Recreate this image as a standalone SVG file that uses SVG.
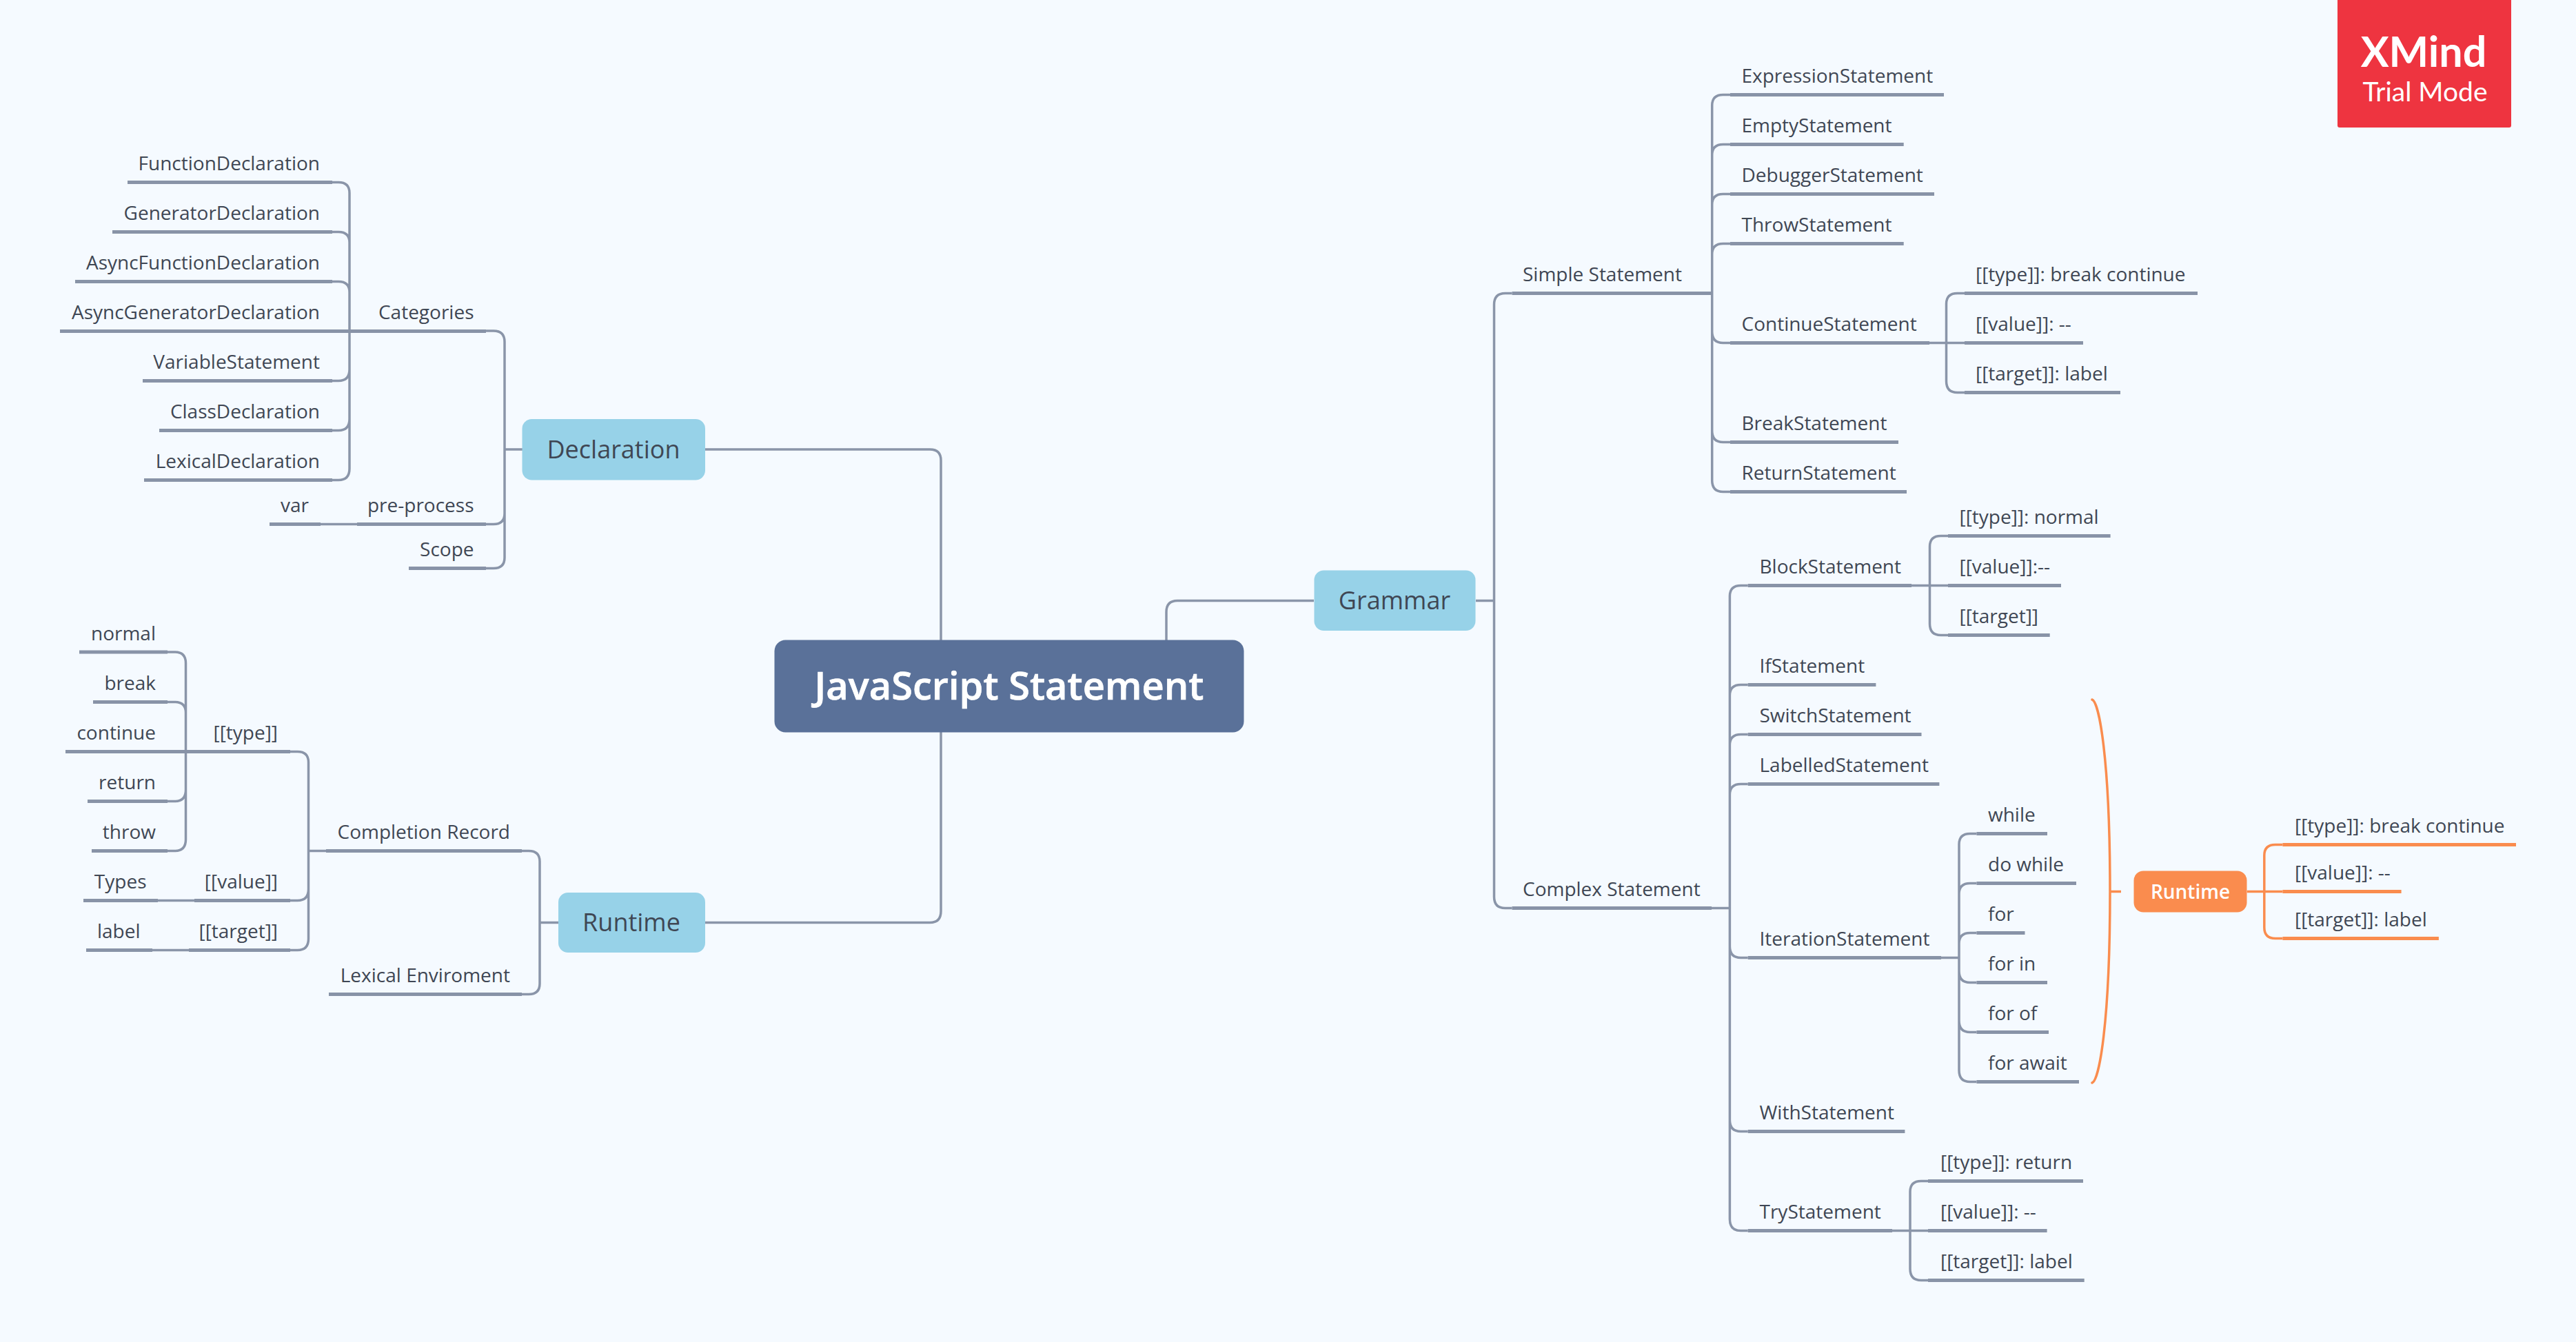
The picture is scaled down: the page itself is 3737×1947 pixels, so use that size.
<svg xmlns="http://www.w3.org/2000/svg" width="3737" height="1947" viewBox="0 0 3737 1947">
<style>
text{font-family:"Open Sans","Noto Sans",sans-serif;fill:#3f4754}
.t{font-size:28px}
.e{font-size:28px;text-anchor:end}
.n{font-size:36px;text-anchor:middle}
.c{fill:none;stroke:#8a95a9;stroke-width:3.5}
.u{fill:none;stroke:#8893a7;stroke-width:5}
.oc{fill:none;stroke:#fa8c4e;stroke-width:3.5}
.ou{fill:none;stroke:#fa8c4e;stroke-width:5}
.b{fill:#97d2e8}
</style>
<rect width="3737" height="1947" fill="#f5faff"/>
<g id="connectors">
<path class="c" d="M1023 652H1349Q1365 652 1365 668V929M1023 1338.5H1349Q1365 1338.5 1365 1322V1062M1906 871.5H1708Q1692 871.5 1692 888V929"/>
<path class="c" d="M732 652V496Q732 480 716 480H705M732 652V745Q732 760.5 716 760.5H705M732 652V809Q732 824.5 716 824.5H705M732 652H758"/>
<path class="c" d="M507 480V280Q507 264.5 491 264.5H482M507 480V352Q507 336.5 491 336.5H482M507 480V424Q507 408.5 491 408.5H482M507 480H482M507 480V536Q507 552.5 491 552.5H482M507 480V608Q507 624.5 491 624.5H482M507 480V680Q507 696.5 491 696.5H482"/>
<path class="c" d="M465 760.5H518"/>
<path class="c" d="M783 1338.5V1250Q783 1234.5 767 1234.5H757M783 1338.5V1427Q783 1442.5 767 1442.5H757M783 1338.5H810"/>
<path class="c" d="M447.5 1234.5H473M447.5 1234.5V1106Q447.5 1090.5 431.5 1090.5H421M447.5 1234.5V1290Q447.5 1306.5 431.5 1306.5H421M447.5 1234.5V1362Q447.5 1378.5 431.5 1378.5H421"/>
<path class="c" d="M229 1306.5H282M221 1378.5H274"/>
<path class="c" d="M269.5 1090.5V962Q269.5 946 253.5 946H243M269.5 1090.5V1034Q269.5 1018.5 253.5 1018.5H243M269.5 1090.5H243M269.5 1090.5V1146Q269.5 1162.5 253.5 1162.5H243M269.5 1090.5V1218Q269.5 1234.5 253.5 1234.5H243"/>
<path class="c" d="M2141 871.5H2167.5V442Q2167.5 425.5 2183.5 425.5H2193.5M2167.5 871.5V1301Q2167.5 1317.5 2183.5 1317.5H2193.5"/>
<path class="c" d="M2483.7 425.5V153Q2483.7 137.5 2499.7 137.5H2510M2483.7 425.5V225Q2483.7 209.5 2499.7 209.5H2510M2483.7 425.5V297Q2483.7 281.5 2499.7 281.5H2510M2483.7 425.5V369Q2483.7 353.5 2499.7 353.5H2510M2483.7 425.5V481Q2483.7 497.5 2499.7 497.5H2510M2483.7 425.5V625Q2483.7 641.5 2499.7 641.5H2510M2483.7 425.5V697Q2483.7 713.5 2499.7 713.5H2510"/>
<path class="c" d="M2799 497.5H2850M2823.5 497.5V441Q2823.5 425.5 2839.5 425.5H2850M2823.5 497.5V553Q2823.5 569.5 2839.5 569.5H2850"/>
<path class="c" d="M2483 1317.5H2509.4V865Q2509.4 849.5 2525.4 849.5H2535.7M2509.4 1317.5V1009Q2509.4 993.5 2525.4 993.5H2535.7M2509.4 1317.5V1081Q2509.4 1065.5 2525.4 1065.5H2535.7M2509.4 1317.5V1153Q2509.4 1137.5 2525.4 1137.5H2535.7M2509.4 1317.5V1373Q2509.4 1389.5 2525.4 1389.5H2535.7M2509.4 1317.5V1625Q2509.4 1641.5 2525.4 1641.5H2535.7M2509.4 1317.5V1769Q2509.4 1785.5 2525.4 1785.5H2535.7"/>
<path class="c" d="M2773 849.5H2826M2799.5 849.5V793Q2799.5 777.5 2815.5 777.5H2826M2799.5 849.5V905Q2799.5 921.5 2815.5 921.5H2826"/>
<path class="c" d="M2816 1389.5H2842V1225Q2842 1209.5 2858 1209.5H2867.4M2842 1389.5V1297Q2842 1281.5 2858 1281.5H2867.4M2842 1389.5V1369Q2842 1353.5 2858 1353.5H2867.4M2842 1389.5V1409Q2842 1425.5 2858 1425.5H2867.4M2842 1389.5V1481Q2842 1497.5 2858 1497.5H2867.4M2842 1389.5V1553Q2842 1569.5 2858 1569.5H2867.4"/>
<path class="c" d="M2745 1785.5H2797M2771 1785.5V1729Q2771 1713.5 2787 1713.5H2797M2771 1785.5V1841Q2771 1857.5 2787 1857.5H2797"/>
<path class="u" d="M185 264.5H482M163 336.5H482M109 408.5H482M87 480.5H705M207 552.5H482M231 624.5H482M209 696.5H482M518 760.5H705M391 760.5H465M593 824.5H705"/>
<path class="u" d="M115 946H243M135 1018.5H243M95 1090.5H421M127 1162.5H243M133 1234.5H243M282 1306.5H421M121 1306.5H229M274 1378.5H421M125 1378.5H221M473 1234.5H757M477 1442.5H757"/>
<path class="u" d="M2193.5 425.5H2483.7M2510 137.5H2820M2510 209.5H2761.7M2510 281.5H2806M2510 353.5H2761.7M2510 497.5H2799M2510 641.5H2754M2510 713.5H2766M2850 425.5H3188M2850 497.5H3022M2850 569.5H3076"/>
<path class="u" d="M2193.5 1317.5H2483M2535.7 849.5H2773M2535.7 993.5H2721.4M2535.7 1065.5H2787.5M2535.7 1137.5H2813.4M2535.7 1389.5H2816M2535.7 1641.5H2763.4M2535.7 1785.5H2745M2826 777.5H3061.6M2826 849.5H2990M2826 921.5H2973.7M2867.4 1209.5H2970M2867.4 1281.5H3012M2867.4 1353.5H2937.5M2867.4 1425.5H2970M2867.4 1497.5H2972M2867.4 1569.5H3016M2797 1713.5H3022M2797 1785.5H2969.6M2797 1857.5H3023.7"/>
<path class="oc" d="M3035 1015C3045 1018 3061 1100 3061 1293C3061 1486 3045 1568 3035 1571" stroke-linecap="round"/>
<path class="oc" d="M3061 1293.4H3077M3259.7 1293.4H3311.4M3284.8 1293.4V1241Q3284.8 1225.4 3300.8 1225.4H3311.4M3284.8 1293.4V1345.4Q3284.8 1361.4 3300.8 1361.4H3311.4"/>
<path class="ou" d="M3311.4 1225.4H3650M3311.4 1293.4H3483.6M3311.4 1361.4H3537.9"/>
</g>
<g id="root"><rect x="1123.5" y="928.5" width="681" height="134" rx="16" fill="#5a7199"/><text x="1464" y="1015" font-size="56" font-weight="600" text-anchor="middle" style="fill:#fff;stroke:#fff;stroke-width:.7">JavaScript Statement</text></g>
<g id="declaration"><rect class="b" x="757.5" y="608" width="265.5" height="88.5" rx="14"/><text class="n" x="890" y="665">Declaration</text></g>
<g id="runtime"><rect class="b" x="810" y="1295" width="213" height="87" rx="14"/><text class="n" x="916" y="1351">Runtime</text></g>
<g id="grammar"><rect class="b" x="1906.5" y="827.5" width="234" height="87.5" rx="14"/><text class="n" x="2023" y="884">Grammar</text></g>
<g id="categories"><text class="e" x="687.5" y="463">Categories</text></g>
<g id="functiondeclaration"><text class="e" x="464" y="247">FunctionDeclaration</text></g>
<g id="generatordeclaration"><text class="e" x="464" y="319">GeneratorDeclaration</text></g>
<g id="asyncfunctiondeclaration"><text class="e" x="464" y="391">AsyncFunctionDeclaration</text></g>
<g id="asyncgeneratordeclaration"><text class="e" x="464" y="463">AsyncGeneratorDeclaration</text></g>
<g id="variablestatement"><text class="e" x="464" y="535">VariableStatement</text></g>
<g id="classdeclaration"><text class="e" x="464" y="607">ClassDeclaration</text></g>
<g id="lexicaldeclaration"><text class="e" x="464" y="679">LexicalDeclaration</text></g>
<g id="preprocess"><text class="e" x="687.5" y="743">pre-process</text></g>
<g id="var"><text class="e" x="448" y="743">var</text></g>
<g id="scope"><text class="e" x="687.5" y="807">Scope</text></g>
<g id="normal"><text class="e" x="226" y="929">normal</text></g>
<g id="break"><text class="e" x="226" y="1001">break</text></g>
<g id="continue"><text class="e" x="226" y="1073">continue</text></g>
<g id="return"><text class="e" x="226" y="1145">return</text></g>
<g id="throw"><text class="e" x="226" y="1217">throw</text></g>
<g id="type"><text class="e" x="403" y="1073">[[type]]</text></g>
<g id="value"><text class="e" x="403" y="1289">[[value]]</text></g>
<g id="target"><text class="e" x="403" y="1361">[[target]]</text></g>
<g id="types"><text class="e" x="212.5" y="1289">Types</text></g>
<g id="label"><text class="e" x="203.5" y="1361">label</text></g>
<g id="completion"><text class="e" x="740" y="1217">Completion Record</text></g>
<g id="lexical"><text class="e" x="740" y="1425">Lexical Enviroment</text></g>
<g id="simple"><text class="t" x="2209" y="408">Simple Statement</text></g>
<g id="expression"><text class="t" x="2526.5" y="120">ExpressionStatement</text></g>
<g id="empty"><text class="t" x="2526.5" y="192">EmptyStatement</text></g>
<g id="debugger"><text class="t" x="2526.5" y="264">DebuggerStatement</text></g>
<g id="throwst"><text class="t" x="2526.5" y="336">ThrowStatement</text></g>
<g id="continuest"><text class="t" x="2526.5" y="480">ContinueStatement</text></g>
<g id="breakst"><text class="t" x="2526.5" y="624">BreakStatement</text></g>
<g id="returnst"><text class="t" x="2526.5" y="696">ReturnStatement</text></g>
<g id="ctype"><text class="t" x="2866" y="408">[[type]]: break continue</text></g>
<g id="cvalue"><text class="t" x="2866" y="480">[[value]]: --</text></g>
<g id="ctarget"><text class="t" x="2866" y="552">[[target]]: label</text></g>
<g id="complex"><text class="t" x="2209" y="1300">Complex Statement</text></g>
<g id="block"><text class="t" x="2552.5" y="832">BlockStatement</text></g>
<g id="ifst"><text class="t" x="2552.5" y="976">IfStatement</text></g>
<g id="switchst"><text class="t" x="2552.5" y="1048">SwitchStatement</text></g>
<g id="labelled"><text class="t" x="2552.5" y="1120">LabelledStatement</text></g>
<g id="iteration"><text class="t" x="2552.5" y="1372">IterationStatement</text></g>
<g id="withst"><text class="t" x="2552.5" y="1624">WithStatement</text></g>
<g id="tryst"><text class="t" x="2552.5" y="1768">TryStatement</text></g>
<g id="btype"><text class="t" x="2842.5" y="760">[[type]]: normal</text></g>
<g id="bvalue"><text class="t" x="2842.5" y="832">[[value]]:--</text></g>
<g id="btarget"><text class="t" x="2842.5" y="904">[[target]]</text></g>
<g id="while"><text class="t" x="2884" y="1192">while</text></g>
<g id="dowhile"><text class="t" x="2884" y="1264">do while</text></g>
<g id="for"><text class="t" x="2884" y="1336">for</text></g>
<g id="forin"><text class="t" x="2884" y="1408">for in</text></g>
<g id="forof"><text class="t" x="2884" y="1480">for of</text></g>
<g id="forawait"><text class="t" x="2884" y="1552">for await</text></g>
<g id="ttype"><text class="t" x="2815" y="1696">[[type]]: return</text></g>
<g id="tvalue"><text class="t" x="2815" y="1768">[[value]]: --</text></g>
<g id="ttarget"><text class="t" x="2815" y="1840">[[target]]: label</text></g>
<g id="runtimeboundary"><rect x="3095.5" y="1263.5" width="164" height="60" rx="14" fill="#fa8c4e"/><text x="3177.5" y="1304" font-size="28" font-weight="600" text-anchor="middle" style="fill:#fff">Runtime</text></g>
<g id="rtype"><text class="t" x="3329" y="1208">[[type]]: break continue</text></g>
<g id="rvalue"><text class="t" x="3329" y="1276">[[value]]: --</text></g>
<g id="rtarget"><text class="t" x="3329" y="1344">[[target]]: label</text></g>
<g id="watermark"><rect x="3391" y="-6" width="252" height="191" rx="3" fill="#ee3440"/><text x="3516" y="97" font-size="61" font-weight="700" text-anchor="middle" style="fill:#fff;font-family:Lato,sans-serif">XMind</text><text x="3518" y="147" font-size="39" text-anchor="middle" style="fill:#fff;font-family:Lato,sans-serif">Trial Mode</text></g>
</svg>
